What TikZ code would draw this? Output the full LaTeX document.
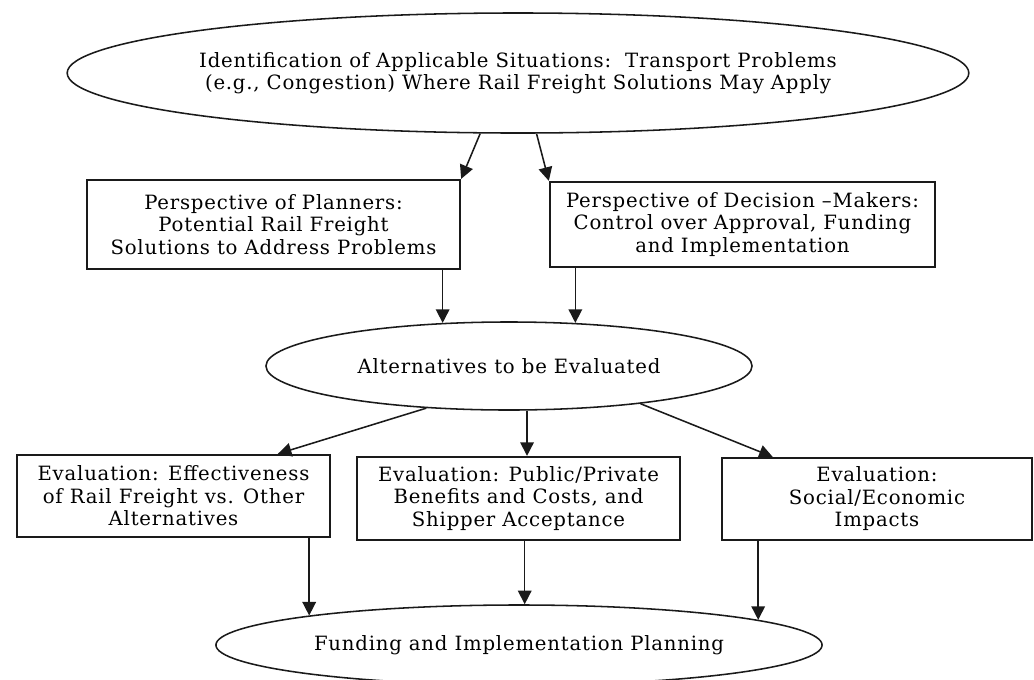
\documentclass[tikz,border=0pt]{standalone}
\usepackage{fontspec}
\setmainfont{DejaVu Serif}[LetterSpace=4]
\usetikzlibrary{positioning, shapes.geometric, arrows.meta}
\definecolor{InkDark}{HTML}{1A1A1A}
\tikzset{
  ovalnode/.style={ellipse, draw=InkDark, line width=1.1pt, inner sep=0pt, align=center},
  boxnode/.style={rectangle, draw=InkDark, line width=1.6pt, inner sep=0pt, align=center},
  flowarrow/.style={draw=InkDark, line width=1.1pt, -{Triangle[length=3.4mm,width=3.4mm]}},
}
\begin{document}
\begin{tikzpicture}[x=0.025cm, y=-0.025cm, font=\fontsize{14}{16}\selectfont]
  \useasboundingbox (0,0) rectangle (1034,679);

  % top of the flow
  \node[ovalnode, minimum width=22.5cm, minimum height=3cm] (problems) at (518,73)
    {Identification of Applicable Situations:\ \ Transport Problems\\
     (e.g., Congestion) Where Rail Freight Solutions May Apply};

  % the two perspectives
  \node[boxnode, minimum width=9.325cm, minimum height=2.225cm] (planners) at (273.5,224.5)
    {Perspective of Planners:\\ Potential Rail Freight\\ Solutions to Address Problems};
  \node[boxnode, minimum width=9.625cm, minimum height=2.125cm] (makers) at (742.5,224.5)
    {Perspective of Decision --Makers:\\ Control over Approval, Funding\\ and Implementation};

  \node[ovalnode, minimum width=12.15cm, minimum height=2.2cm] (alts) at (509,366)
    {Alternatives to be Evaluated};

  % evaluations
  \node[boxnode, minimum width=7.825cm, minimum height=2.05cm] (effect) at (173.5,496)
    {Evaluation: Effectiveness\\ of Rail Freight vs. Other\\ Alternatives};
  \node[boxnode, minimum width=8.075cm, minimum height=2.075cm] (costs) at (518.5,498.5)
    {Evaluation: Public/Private\\ Benefits and Costs, and\\ Shipper Acceptance};
  \node[boxnode, minimum width=7.75cm, minimum height=2.05cm] (impacts) at (877,499)
    {Evaluation:\\ Social/Economic\\ Impacts};

  \node[ovalnode, minimum width=15.15cm, minimum height=2cm] (funding) at (519,645)
    {Funding and Implementation Planning};

  % connectors
  \draw[flowarrow] (problems.-122.4) -- (planners.north east);
  \draw[flowarrow] (problems.-73.3) -- (makers.north west);
  \draw[flowarrow] (alts.147.7 |- planners.south) -- (alts.147.7);
  \draw[flowarrow] (alts.33.5 |- makers.south) -- (alts.33.5);
  \draw[flowarrow] (alts.-153.5) -- (effect.22.8);
  \draw[flowarrow] (alts.-68.8) -- (alts.-68.8 |- costs.north);
  \draw[flowarrow] (alts.-16.5) -- (impacts.158.6);
  \draw[flowarrow] (funding.172.67 |- effect.south) -- (funding.172.67);
  \draw[flowarrow] (funding.82.9 |- costs.south) -- (funding.82.9);
  \draw[flowarrow] (funding.6.45 |- impacts.south) -- (funding.6.45);
\end{tikzpicture}
\end{document}
